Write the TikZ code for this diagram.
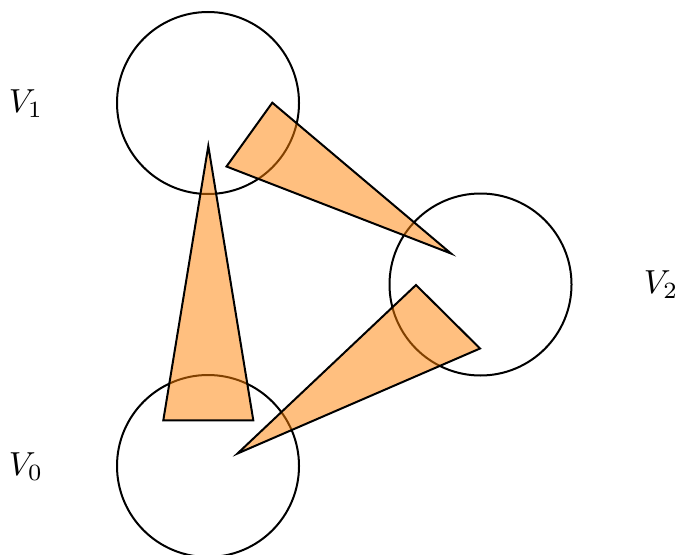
\documentclass[tikz,border=0pt]{standalone}
\begin{document}
\begin{tikzpicture}[x=0.3pt,y=-0.3pt,
  vcircle/.style={draw,circle,line width=0.6pt,minimum size=182*0.3pt,inner sep=0pt},
  vlabel/.style={inner sep=0pt},
  wedge/.style={draw,line width=0.6pt,fill=orange,fill opacity=0.5,line join=miter}]
\useasboundingbox (0,0) rectangle (678,554);
\clip (0,0) rectangle (678,554);
\node[vcircle] (c1) at (208,103) {};
\node[vcircle] (c2) at (480.5,284.5) {};
\node[vcircle] (c0) at (208,466) {};
\node[vlabel] (l1) at (26,104) {$V_1$};
\node[vlabel] (l2) at (661,285) {$V_2$};
\node[vlabel] (l0) at (26,467) {$V_0$};
\draw[wedge] (208.3,146) -- (163.3,420.3) -- (253.3,420.3) -- cycle;
\draw[wedge] (272.3,102.7) -- (226.5,166.5) -- (451,253.5) -- cycle;
\draw[wedge] (416,285) -- (480,348.5) -- (237.5,453.5) -- cycle;
\end{tikzpicture}
\end{document}
